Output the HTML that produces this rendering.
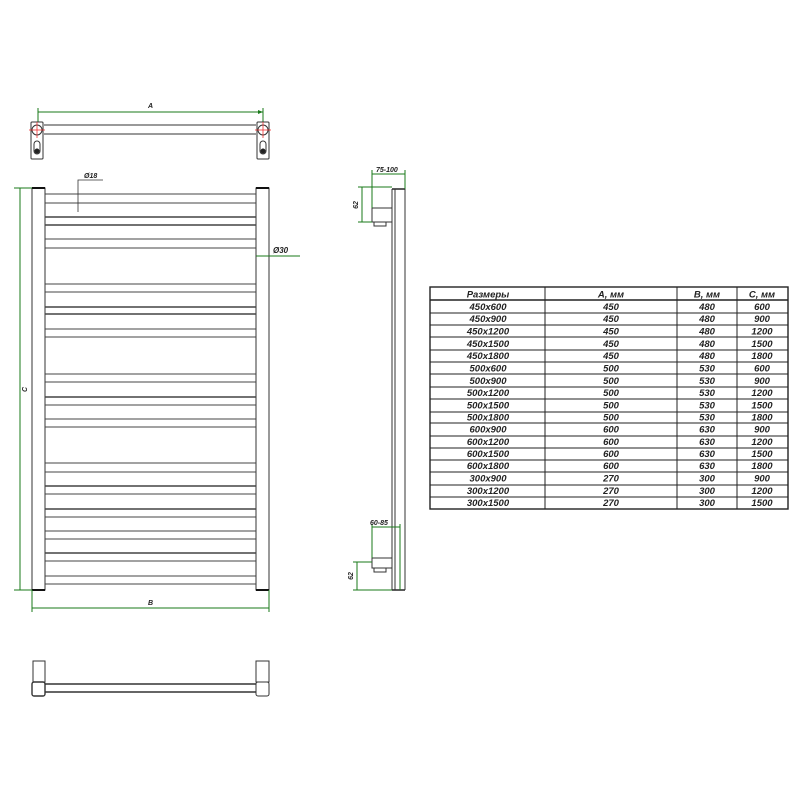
<!DOCTYPE html>
<html><head><meta charset="utf-8"><style>
html,body{margin:0;padding:0;background:#fff;}
svg{display:block;}
text{font-family:"Liberation Sans",sans-serif;font-style:italic;font-weight:bold;fill:#222;}
</style></head><body>
<svg width="800" height="800" viewBox="0 0 800 800" xmlns="http://www.w3.org/2000/svg">
<defs>
<marker id="ar" markerWidth="6" markerHeight="6" refX="5" refY="3" orient="auto"><path d="M0,1 L5,3 L0,5z" fill="#1a7a1a"/></marker>
</defs>
<!-- TOP VIEW -->
<g stroke="#1a7a1a" stroke-width="1" fill="none">
<line x1="38" y1="112" x2="263" y2="112" marker-start="url(#ar)" marker-end="url(#ar)" style="marker-start:none"/>
<line x1="38" y1="108" x2="38" y2="122"/><line x1="263" y1="108" x2="263" y2="122"/>
</g>
<text x="148" y="108" font-size="7">A</text>
<g stroke="#333" fill="none" stroke-width="1">
<line x1="44" y1="125" x2="256" y2="125"/><line x1="44" y1="134" x2="256" y2="134"/>
<rect x="31" y="122" width="12" height="37" rx="1"/>
<rect x="257" y="122" width="12" height="37" rx="1"/>
<circle cx="37" cy="130" r="5"/><circle cx="263" cy="130" r="5"/>
<rect x="34" y="141" width="6" height="13" rx="3"/><rect x="260" y="141" width="6" height="13" rx="3"/>
</g>
<circle cx="37" cy="151" r="2.5" fill="#222"/><circle cx="263" cy="151" r="2.5" fill="#222"/>
<g stroke="#e33" stroke-width="0.8">
<line x1="29" y1="130" x2="45" y2="130"/><line x1="37" y1="122" x2="37" y2="138"/>
<line x1="255" y1="130" x2="271" y2="130"/><line x1="263" y1="122" x2="263" y2="138"/>
</g>
<!-- FRONT VIEW -->
<g stroke="#333" fill="none" stroke-width="1">
<rect x="32" y="188" width="13" height="402"/>
<rect x="256" y="188" width="13" height="402"/>
</g>
<g stroke="#111" stroke-width="2"><line x1="32" y1="188" x2="45" y2="188"/><line x1="256" y1="188" x2="269" y2="188"/><line x1="32" y1="590" x2="45" y2="590"/><line x1="256" y1="590" x2="269" y2="590"/></g>
<g stroke="#444" stroke-width="1">
<line x1="45" y1="194" x2="256" y2="194"/><line x1="45" y1="203" x2="256" y2="203"/>
<line x1="45" y1="217" x2="256" y2="217" stroke-width="1.6"/><line x1="45" y1="225" x2="256" y2="225" stroke-width="1.6"/>
<line x1="45" y1="239" x2="256" y2="239"/><line x1="45" y1="248" x2="256" y2="248"/>
<line x1="45" y1="284" x2="256" y2="284"/><line x1="45" y1="292" x2="256" y2="292"/>
<line x1="45" y1="307" x2="256" y2="307" stroke-width="1.6"/><line x1="45" y1="314" x2="256" y2="314" stroke-width="1.6"/>
<line x1="45" y1="329" x2="256" y2="329"/><line x1="45" y1="337" x2="256" y2="337"/>
<line x1="45" y1="374" x2="256" y2="374"/><line x1="45" y1="382" x2="256" y2="382"/>
<line x1="45" y1="397" x2="256" y2="397" stroke-width="1.6"/><line x1="45" y1="405" x2="256" y2="405"/>
<line x1="45" y1="419" x2="256" y2="419"/><line x1="45" y1="427" x2="256" y2="427"/>
<line x1="45" y1="463" x2="256" y2="463"/><line x1="45" y1="472" x2="256" y2="472"/>
<line x1="45" y1="486" x2="256" y2="486" stroke-width="1.6"/><line x1="45" y1="494" x2="256" y2="494"/>
<line x1="45" y1="509" x2="256" y2="509" stroke-width="1.6"/><line x1="45" y1="517" x2="256" y2="517"/>
<line x1="45" y1="531" x2="256" y2="531"/><line x1="45" y1="539" x2="256" y2="539"/>
<line x1="45" y1="553" x2="256" y2="553" stroke-width="1.6"/><line x1="45" y1="561" x2="256" y2="561"/>
<line x1="45" y1="576" x2="256" y2="576"/><line x1="45" y1="584" x2="256" y2="584"/>
</g>
<!-- dims front -->
<g stroke="#1a7a1a" stroke-width="1" fill="none">
<line x1="20" y1="188" x2="20" y2="590"/>
<line x1="14" y1="188" x2="32" y2="188"/><line x1="14" y1="590" x2="32" y2="590"/>
<line x1="32" y1="590" x2="32" y2="612"/><line x1="269" y1="590" x2="269" y2="612"/>
<line x1="32" y1="608" x2="269" y2="608"/>
<line x1="256" y1="256" x2="300" y2="256"/>
</g>
<text x="148" y="605" font-size="7">B</text>
<text x="27" y="392" font-size="7" transform="rotate(-90 27 392)">C</text>
<text x="273" y="253" font-size="8">Ø30</text>
<g stroke="#333" stroke-width="0.8" fill="none">
<polyline points="103,180 78,180 78,212"/>
</g>
<text x="84" y="178" font-size="7">Ø18</text>
<!-- SIDE VIEW -->
<g stroke="#333" fill="none" stroke-width="1">
<line x1="392" y1="189" x2="392" y2="590"/>
<line x1="395" y1="189" x2="395" y2="590"/>
<line x1="405" y1="189" x2="405" y2="590"/>
<line x1="392" y1="189" x2="405" y2="189" stroke-width="1.6"/>
<line x1="392" y1="590" x2="405" y2="590" stroke-width="1.6"/>
<rect x="372" y="208" width="20" height="14"/>
<rect x="372" y="558" width="20" height="10"/>
<path d="M374,222 v4 h12 v-4"/>
<path d="M374,568 v4 h12 v-4"/>
</g>
<g stroke="#1a7a1a" stroke-width="1" fill="none">
<line x1="372" y1="174" x2="405" y2="174"/>
<line x1="372" y1="170" x2="372" y2="208"/><line x1="405" y1="170" x2="405" y2="189"/>
<line x1="362" y1="187" x2="362" y2="222"/>
<line x1="358" y1="187" x2="392" y2="187"/><line x1="358" y1="222" x2="372" y2="222"/>
<line x1="372" y1="527" x2="400" y2="527"/>
<line x1="372" y1="524" x2="372" y2="558"/><line x1="400" y1="524" x2="400" y2="590"/>
<line x1="357" y1="562" x2="357" y2="590"/>
<line x1="353" y1="562" x2="372" y2="562"/><line x1="353" y1="590" x2="392" y2="590"/>
</g>
<text x="376" y="172" font-size="7">75-100</text>
<text x="370" y="525" font-size="7">60-85</text>
<text x="358" y="205" font-size="7" transform="rotate(-90 358 205)" text-anchor="middle">62</text>
<text x="353" y="576" font-size="7" transform="rotate(-90 353 576)" text-anchor="middle">62</text>
<!-- BOTTOM VIEW -->
<g stroke="#333" fill="none" stroke-width="1">
<rect x="33" y="661" width="12" height="21"/>
<rect x="256" y="661" width="13" height="21"/>
<rect x="32" y="682" width="13" height="14" rx="2" stroke-width="1.4"/>
<rect x="256" y="682" width="13" height="14" rx="2"/>
<line x1="45" y1="684" x2="256" y2="684" stroke-width="1.4"/>
<line x1="45" y1="692" x2="256" y2="692" stroke-width="1.4"/>
</g>
<!-- TABLE -->
<g stroke="#222" fill="none">
<rect x="430" y="287" width="358" height="222" stroke-width="1.4"/>
<line x1="545" y1="287" x2="545" y2="509"/><line x1="677" y1="287" x2="677" y2="509"/><line x1="737" y1="287" x2="737" y2="509"/>
<line x1="430" y1="300" x2="788" y2="300" stroke-width="1.4"/>
<line x1="430" y1="313" x2="788" y2="313"/><line x1="430" y1="325" x2="788" y2="325"/><line x1="430" y1="337" x2="788" y2="337"/><line x1="430" y1="350" x2="788" y2="350"/><line x1="430" y1="362" x2="788" y2="362"/><line x1="430" y1="374" x2="788" y2="374"/><line x1="430" y1="387" x2="788" y2="387"/><line x1="430" y1="399" x2="788" y2="399"/><line x1="430" y1="412" x2="788" y2="412"/><line x1="430" y1="423" x2="788" y2="423"/><line x1="430" y1="436" x2="788" y2="436"/><line x1="430" y1="448" x2="788" y2="448"/><line x1="430" y1="460" x2="788" y2="460"/><line x1="430" y1="472" x2="788" y2="472"/><line x1="430" y1="485" x2="788" y2="485"/><line x1="430" y1="497" x2="788" y2="497"/>
</g>
<g font-size="9.5" text-anchor="middle">
<text x="488" y="297.5">Размеры</text><text x="611" y="297.5">A, мм</text><text x="707" y="297.5">B, мм</text><text x="762" y="297.5">C, мм</text>
<text x="488" y="310">450x600</text><text x="611" y="310">450</text><text x="707" y="310">480</text><text x="762" y="310">600</text>
<text x="488" y="322">450x900</text><text x="611" y="322">450</text><text x="707" y="322">480</text><text x="762" y="322">900</text>
<text x="488" y="334.5">450x1200</text><text x="611" y="334.5">450</text><text x="707" y="334.5">480</text><text x="762" y="334.5">1200</text>
<text x="488" y="347">450x1500</text><text x="611" y="347">450</text><text x="707" y="347">480</text><text x="762" y="347">1500</text>
<text x="488" y="359">450x1800</text><text x="611" y="359">450</text><text x="707" y="359">480</text><text x="762" y="359">1800</text>
<text x="488" y="371.5">500x600</text><text x="611" y="371.5">500</text><text x="707" y="371.5">530</text><text x="762" y="371.5">600</text>
<text x="488" y="384">500x900</text><text x="611" y="384">500</text><text x="707" y="384">530</text><text x="762" y="384">900</text>
<text x="488" y="396">500x1200</text><text x="611" y="396">500</text><text x="707" y="396">530</text><text x="762" y="396">1200</text>
<text x="488" y="408.5">500x1500</text><text x="611" y="408.5">500</text><text x="707" y="408.5">530</text><text x="762" y="408.5">1500</text>
<text x="488" y="420.5">500x1800</text><text x="611" y="420.5">500</text><text x="707" y="420.5">530</text><text x="762" y="420.5">1800</text>
<text x="488" y="432.5">600x900</text><text x="611" y="432.5">600</text><text x="707" y="432.5">630</text><text x="762" y="432.5">900</text>
<text x="488" y="445">600x1200</text><text x="611" y="445">600</text><text x="707" y="445">630</text><text x="762" y="445">1200</text>
<text x="488" y="457">600x1500</text><text x="611" y="457">600</text><text x="707" y="457">630</text><text x="762" y="457">1500</text>
<text x="488" y="469">600x1800</text><text x="611" y="469">600</text><text x="707" y="469">630</text><text x="762" y="469">1800</text>
<text x="488" y="481.5">300x900</text><text x="611" y="481.5">270</text><text x="707" y="481.5">300</text><text x="762" y="481.5">900</text>
<text x="488" y="494">300x1200</text><text x="611" y="494">270</text><text x="707" y="494">300</text><text x="762" y="494">1200</text>
<text x="488" y="506">300x1500</text><text x="611" y="506">270</text><text x="707" y="506">300</text><text x="762" y="506">1500</text>
</g>
</svg>
</body></html>
